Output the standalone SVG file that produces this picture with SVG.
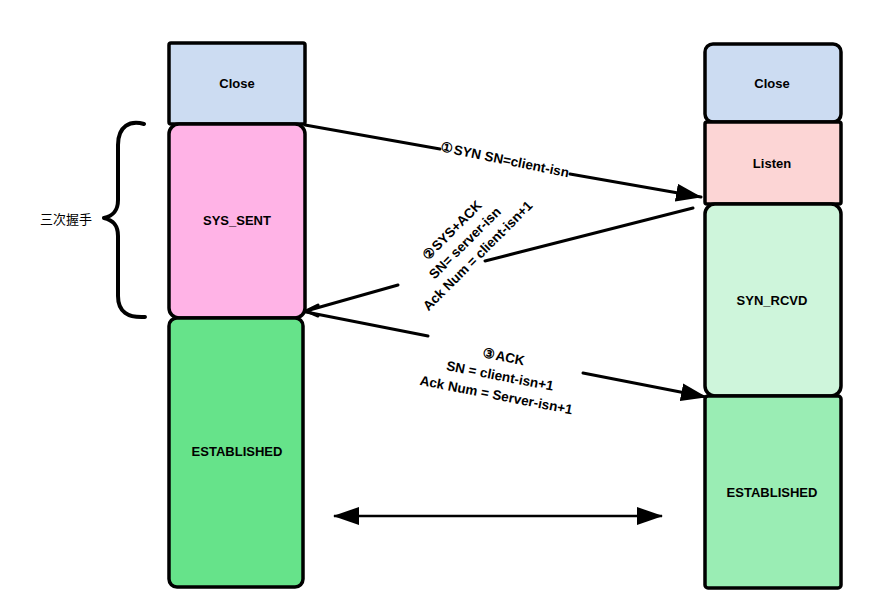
<svg xmlns="http://www.w3.org/2000/svg" width="884" height="604" viewBox="0 0 884 604">
<style>
.box{stroke:#000;stroke-width:3.5}
.lbl{font-family:"Liberation Sans",Arial,sans-serif;font-weight:bold;font-size:13px;fill:#000;text-anchor:middle;dominant-baseline:central}
.edge{stroke:#000;stroke-width:3;fill:none;stroke-linecap:round}
.elbl{font-family:"Liberation Sans",Arial,sans-serif;font-weight:bold;font-size:13.5px;fill:#000;text-anchor:middle;dominant-baseline:central}
</style>
<defs>
<marker id="tri" viewBox="0 0 26 18" refX="25" refY="9" markerWidth="26" markerHeight="18" markerUnits="userSpaceOnUse" orient="auto-start-reverse">
<path d="M0,0 L26,9 L0,18 Z" fill="#000"/>
</marker>
</defs>
<rect width="884" height="604" fill="#fff"/>
<g id="left-close"><rect class="box" x="169" y="43" width="136" height="81" rx="2" fill="#ccdcf2"/><text class="lbl" x="237" y="83">Close</text></g>
<g id="left-syssent"><rect class="box" x="169" y="124" width="136" height="194" rx="10" fill="#ffb3e6"/><text class="lbl" x="237" y="220">SYS_SENT</text></g>
<g id="left-established"><rect class="box" x="169" y="318" width="134" height="269" rx="8" fill="#66e38a"/><text class="lbl" x="237" y="451">ESTABLISHED</text></g>
<g id="right-close"><rect class="box" x="705" y="44" width="136" height="78" rx="8" fill="#ccdcf2"/><text class="lbl" x="772" y="83">Close</text></g>
<g id="right-listen"><rect class="box" x="705" y="122" width="136" height="82" rx="2" fill="#fcd5d5"/><text class="lbl" x="772" y="163">Listen</text></g>
<g id="right-synrcvd"><rect class="box" x="705" y="204" width="136" height="192" rx="10" fill="#cef5db"/><text class="lbl" x="772" y="300">SYN_RCVD</text></g>
<g id="right-established"><rect class="box" x="705" y="396" width="136" height="192" rx="3" fill="#9aedb4"/><text class="lbl" x="772" y="492">ESTABLISHED</text></g>
<g id="brace"><path d="M144,124 C130,120 118,126 118,145 L118,200 C118,212 112,216 104,218 C112,220 118,224 118,236 L118,296 C118,312 128,318 145,317" fill="none" stroke="#000" stroke-width="4" stroke-linecap="round" stroke-linejoin="round"/>
<text x="92" y="218" font-family="'Noto Sans CJK SC',sans-serif" font-size="13" text-anchor="end" dominant-baseline="central">三次握手</text></g>
<g id="connectors">
<path class="edge" d="M305,125 L440,149"/>
<path class="edge" d="M570,174 L701,197" marker-end="url(#tri)"/>
<text class="elbl" transform="translate(505,160) rotate(11.5)">①SYN SN=client-isn</text>
<path class="edge" d="M693,208 L485,261"/>
<path class="edge" d="M398,285 L306,311 M318,305 L306,311 L318,316"/>
<g transform="translate(465,243) rotate(-45)">
<text class="elbl" x="0" y="-18">②SYS+ACK</text>
<text class="elbl" x="0" y="0">SN= server-isn</text>
<text class="elbl" x="0" y="18">Ack Num = client-isn+1</text>
</g>
<path class="edge" d="M306,312 L428,336"/>
<path class="edge" d="M583,373 L706,397" marker-end="url(#tri)"/>
<g transform="translate(500,376) rotate(11)">
<text class="elbl" x="0" y="-19.5">③ACK</text>
<text class="elbl" x="0" y="0">SN = client-isn+1</text>
<text class="elbl" x="0" y="19.5">Ack Num = Server-isn+1</text>
</g>
<path d="M334,516 L662,516" stroke="#000" stroke-width="2.5" fill="none" marker-start="url(#tri)" marker-end="url(#tri)"/>
</g>
</svg>
